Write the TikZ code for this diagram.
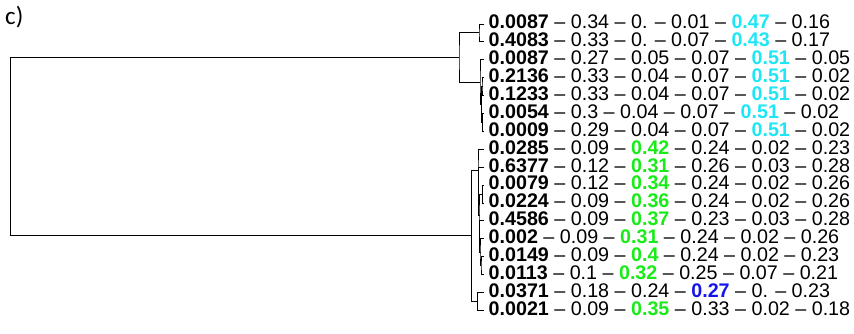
\documentclass[tikz,border=0pt]{standalone}
\usepackage{fontspec}
\setmainfont{Liberation Sans}
\newfontfamily\panelfont{Carlito}
\definecolor{clcyan}{RGB}{30,230,245}
\definecolor{clgreen}{RGB}{25,235,25}
\definecolor{clblue}{RGB}{20,20,235}
\newcommand{\cy}[1]{\textcolor{clcyan}{\textbf{#1}}}
\newcommand{\gr}[1]{\textcolor{clgreen}{\textbf{#1}}}
\newcommand{\bl}[1]{\textcolor{clblue}{\textbf{#1}}}

\begin{document}
\begin{tikzpicture}[x=1pt, y=-1pt,
    leaf/.style={anchor=west, inner xsep=4.5pt, inner ysep=0pt, text depth=4pt,
                 font=\fontsize{19.7}{19.7}\selectfont},
    branch/.style={draw, line width=0.9pt}]
    \useasboundingbox (0,0) rectangle (854,334);

    % Panel label
    \node[anchor=base west, inner sep=0pt, font=\panelfont\fontsize{25}{25}\selectfont] (panel) at (5,25) {c)};

    % Leaves
    \node[leaf] (l0)  at (484,24.0)  {\textbf{0.0087} – 0.34 – 0. – 0.01 – \cy{0.47} – 0.16};
    \node[leaf] (l1)  at (484,41.9)  {\textbf{0.4083} – 0.33 – 0. – 0.07 – \cy{0.43} – 0.17};
    \node[leaf] (l2)  at (484,59.8)  {\textbf{0.0087} – 0.27 – 0.05 – 0.07 – \cy{0.51} – 0.05};
    \node[leaf] (l3)  at (484,77.7)  {\textbf{0.2136} – 0.33 – 0.04 – 0.07 – \cy{0.51} – 0.02};
    \node[leaf] (l4)  at (484,95.6)  {\textbf{0.1233} – 0.33 – 0.04 – 0.07 – \cy{0.51} – 0.02};
    \node[leaf] (l5)  at (484,113.5) {\textbf{0.0054} – 0.3 – 0.04 – 0.07 – \cy{0.51} – 0.02};
    \node[leaf] (l6)  at (484,131.4) {\textbf{0.0009} – 0.29 – 0.04 – 0.07 – \cy{0.51} – 0.02};
    \node[leaf] (l7)  at (484,149.3) {\textbf{0.0285} – 0.09 – \gr{0.42} – 0.24 – 0.02 – 0.23};
    \node[leaf] (l8)  at (484,167.2) {\textbf{0.6377} – 0.12 – \gr{0.31} – 0.26 – 0.03 – 0.28};
    \node[leaf] (l9)  at (484,185.1) {\textbf{0.0079} – 0.12 – \gr{0.34} – 0.24 – 0.02 – 0.26};
    \node[leaf] (l10) at (484,203.0) {\textbf{0.0224} – 0.09 – \gr{0.36} – 0.24 – 0.02 – 0.26};
    \node[leaf] (l11) at (484,220.9) {\textbf{0.4586} – 0.09 – \gr{0.37} – 0.23 – 0.03 – 0.28};
    \node[leaf] (l12) at (484,238.8) {\textbf{0.002} – 0.09 – \gr{0.31} – 0.24 – 0.02 – 0.26};
    \node[leaf] (l13) at (484,256.7) {\textbf{0.0149} – 0.09 – \gr{0.4} – 0.24 – 0.02 – 0.23};
    \node[leaf] (l14) at (484,274.6) {\textbf{0.0113} – 0.1 – \gr{0.32} – 0.25 – 0.07 – 0.21};
    \node[leaf] (l15) at (484,292.5) {\textbf{0.0371} – 0.18 – 0.24 – \bl{0.27} – 0. – 0.23};
    \node[leaf] (l16) at (484,310.4) {\textbf{0.0021} – 0.09 – \gr{0.35} – 0.33 – 0.02 – 0.18};

    % Merge points
    \coordinate (a01)   at (479,32.95);
    \coordinate (a34)   at (482,86.65);
    \coordinate (a56)   at (482.5,122.45);
    \coordinate (a36)   at (481.5,104.55);
    \coordinate (a26)   at (480,82.2);
    \coordinate (top)   at (459,57.6);
    \coordinate (b910)  at (482.5,194.05);
    \coordinate (b1314) at (481,265.65);
    \coordinate (b1214) at (480,252.2);
    \coordinate (b1114) at (479.5,236.55);
    \coordinate (b914)  at (479,215.3);
    \coordinate (b814)  at (478.7,191.25);
    \coordinate (b714)  at (478,170.3);
    \coordinate (b1516) at (477.3,301.45);
    \coordinate (bot)   at (471.7,235.9);
    \coordinate (root)  at (10.3,146.75);

    % Draw branches
    \draw[branch] (l0.west) -| (a01) |- (l1.west);
    \draw[branch] (l3.west) -| (a34) |- (l4.west);
    \draw[branch] (l5.west) -| (a56) |- (l6.west);
    \draw[branch] (a34) -| (a36) |- (a56);
    \draw[branch] (l2.west) -| (a26) |- (a36);
    \draw[branch] (a01) -| (top) |- (a26);
    \draw[branch] (l9.west) -| (b910) |- (l10.west);
    \draw[branch] (l13.west) -| (b1314) |- (l14.west);
    \draw[branch] (l12.west) -| (b1214) |- (b1314);
    \draw[branch] (l11.west) -| (b1114) |- (b1214);
    \draw[branch] (b910) -| (b914) |- (b1114);
    \draw[branch] (l8.west) -| (b814) |- (b914);
    \draw[branch] (l7.west) -| (b714) |- (b814);
    \draw[branch] (l15.west) -| (b1516) |- (l16.west);
    \draw[branch] (b714) -| (bot) |- (b1516);
    \draw[branch] (top) -| (root) |- (bot);
\end{tikzpicture}
\end{document}
